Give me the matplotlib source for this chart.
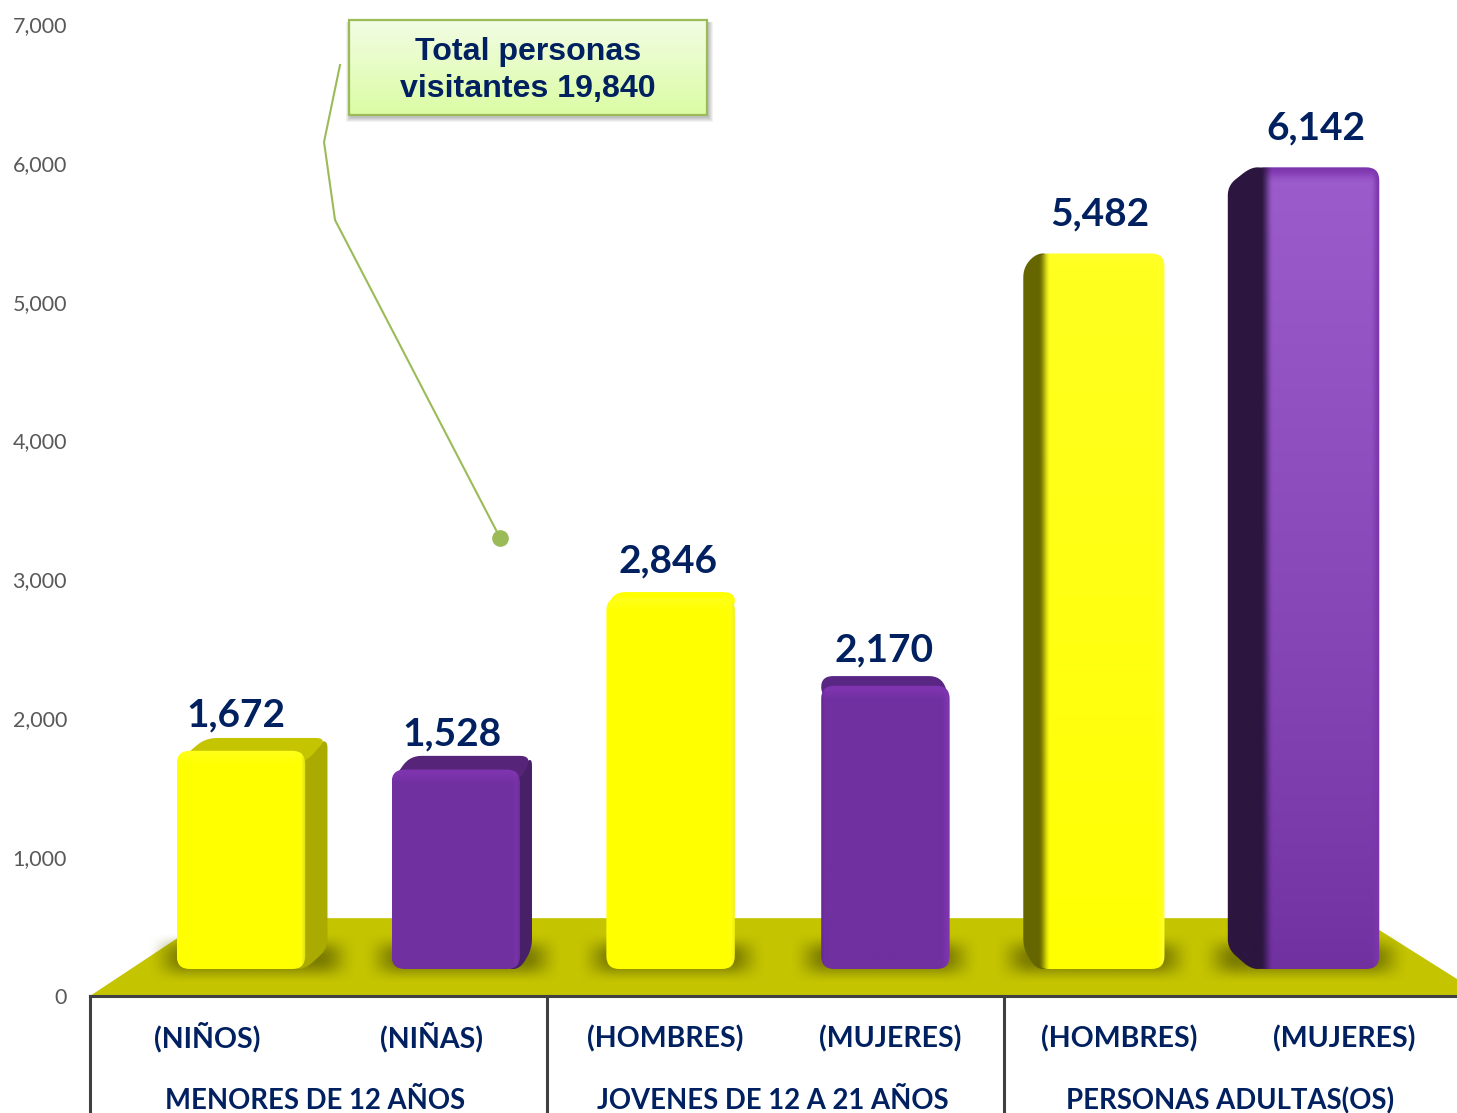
import numpy as np
import matplotlib
matplotlib.use('Agg')
import matplotlib.pyplot as plt
from matplotlib.colors import to_rgb
from matplotlib.patches import FancyBboxPatch, Polygon, Rectangle

# data
categories = ['(NIÑOS)', '(NIÑAS)', '(HOMBRES)', '(MUJERES)', '(HOMBRES)', '(MUJERES)']
groups = ['MENORES DE 12 AÑOS', 'JOVENES DE 12 A 21 AÑOS', 'PERSONAS ADULTAS(OS)']
visitors = [1672, 1528, 2846, 2170, 5482, 6142]
y_ticks = [0, 1000, 2000, 3000, 4000, 5000, 6000, 7000]
callout_lines = ['Total personas', 'visitantes 19,840']

# styles per bar
front_colors = ['#ffff00', '#7030a0', '#ffff00', '#7030a0', '#ffff00', '#7030a0']
bevel_colors = ['#ffff18', '#8035b0', '#ffff18', '#8035b0', '#ffff28', '#7d35ad']
side_colors = ['#aaaa00', '#472068', '#dada00', '#6a2c98', '#666600', '#2c1640']
top_colors = ['#c4c400', '#562478', '#ffff00', '#5a2684', '#ffff30', '#7d35ad']
top_lights = ['#ffff00', '#7030a0', '#ffff00', '#7030a0', '#ffff20', '#9c5ccc']
side_solid = [0, 0, 0, 0, 2, 9]
side_bands = [5, 5, 4, 4, 14, 22]
label_gaps = [23, 22, 31, 26, 39, 39]
label_nudge = [3, -1, 4, 0, 1, -3]

NAVY = '#002060'
AXIS = '#404040'

# pixel size of one axis unit
PX_X = 228.5
PX_Y = 972 / 7000

# perspective of the 3D chart
VAN_X, VAN_Y = 2.476, 3240
FRONT, BACK, FLOOR = 0.94, 0.895, 0.827
HALF_W = 0.299
BAR_SHIFT = 0.013
TOP_LIFT = 3 / PX_Y


def project(x, y, s):
    return VAN_X + (x - VAN_X) * s, VAN_Y + (y - VAN_Y) * s


def px(x, y):
    return -0.5 + (x - 90) / PX_X, (996 - y) / PX_Y


def ramp(t):
    t = np.clip(t, 0, 1)
    return t * t * (3 - 2 * t)


def rounded_poly(points, r):
    # corners replaced by short curves, measured in pixels of the image
    pts = np.array(points, dtype=float) * [PX_X, PX_Y]
    out = []
    n = len(pts)
    for k in range(n):
        p, a, b = pts[k], pts[k - 1], pts[(k + 1) % n]
        la, lb = np.linalg.norm(a - p), np.linalg.norm(b - p)
        if la < 1e-6 or lb < 1e-6:
            out.append(p)
            continue
        s = p + (a - p) / la * min(r, la / 2)
        e = p + (b - p) / lb * min(r, lb / 2)
        for t in np.linspace(0, 1, 8):
            out.append((1 - t) ** 2 * s + 2 * t * (1 - t) * p + t ** 2 * e)
    return np.array(out) / [PX_X, PX_Y]


def draw_shadow(ax, x0, x1, y0, y1):
    # soft dark patch on the floor around the foot of a bar
    xs = np.linspace(x0 - 30 / PX_X, x1 + 30 / PX_X, 200)
    ys = np.linspace(y1 + 16 / PX_Y, y0 - 15 / PX_Y, 90)
    gx = ramp((xs - xs[0]) * PX_X / 38) * ramp((xs[-1] - xs) * PX_X / 38)
    gy = ramp((ys[0] - ys) * PX_Y / 24) * ramp((ys - ys[-1]) * PX_Y / 24)
    rgba = np.zeros((len(ys), len(xs), 4))
    rgba[..., :3] = to_rgb('#6a6a00')
    rgba[..., 3] = np.outer(gy, gx) * 0.8
    ax.imshow(rgba, extent=(xs[0], xs[-1], ys[-1], ys[0]), origin='upper', aspect='auto', zorder=2)


def front_image(i, width_px, height_px, light_left):
    base = np.array(to_rgb(front_colors[i]))
    light = np.array(to_rgb(top_lights[i]))
    bevel = np.array(to_rgb(bevel_colors[i]))
    side = np.array(to_rgb(side_colors[i]))
    h, w = max(int(height_px), 2), max(int(width_px), 2)
    v = np.linspace(0, 1, h)[:, None, None]
    u = np.arange(w)[None, :, None]
    img = base + (light - base) * (1 - v) ** 0.8 * np.ones((h, w, 3))
    # bevel on the top and outer edges
    edge = ramp(1 - np.arange(h)[:, None, None] / 16.0)
    img = img * (1 - edge) + bevel * edge
    right = ramp(1 - (w - 1 - u) / 9.0)
    img = img * (1 - right) + bevel * right
    # blend to the side colour
    if light_left:
        t = ramp(1 - (u - side_solid[i]) / (side_bands[i] - side_solid[i]))
    else:
        t = ramp(1 - (w - 1 - u) / side_bands[i]) * 0.35
    return img * (1 - t) + side * t


fig = plt.figure(figsize=(14.57, 11.13), dpi=100, facecolor='white')
ax = fig.add_axes([90 / 1457, (1113 - 996) / 1113, 1367 / 1457, 972 / 1113])
ax.patch.set_alpha(0)

# floor
corners = [(-0.5, 0), (5.6, 0), project(5.6, 0, FLOOR), project(-0.5, 0, FLOOR)]
ax.add_patch(Polygon(corners, closed=True, facecolor='#c4c400', edgecolor='none', zorder=1))

for i, v in enumerate(visitors):
    x0, x1 = i + BAR_SHIFT - HALF_W, i + BAR_SHIFT + HALF_W
    fx0, fy0 = project(x0, 0, FRONT)
    fx1, fy1 = project(x1, v, FRONT)
    bx0, by0 = project(x0, 0, BACK)
    bx1, by1 = project(x1, v, BACK)
    if v < VAN_Y:
        by1 = by1 + TOP_LIFT

    draw_shadow(ax, min(fx0, bx0), max(fx1, bx1), fy0, by0)

    # side and top faces
    left_side = x1 >= VAN_X
    if left_side:
        depth = (fx0 - bx0) * PX_X
        side = [(fx0 + 14 / PX_X, fy0), (fx0, fy0), (bx0, by0), (bx0, by1), (fx0, fy1), (fx0 + 14 / PX_X, fy1)]
    else:
        depth = (bx1 - fx1) * PX_X
        side = [(fx1 - 14 / PX_X, fy0), (fx1, fy0), (bx1, by0), (bx1, by1), (fx1, fy1), (fx1 - 14 / PX_X, fy1)]
    if depth > 8:
        ax.add_patch(Polygon(rounded_poly(side, 10), closed=True, facecolor=side_colors[i],
                             edgecolor='none', zorder=3))
    if v < VAN_Y:
        top = [(fx0, fy1 - 12 / PX_Y), (max(bx0, fx0), by1), (min(bx1, fx1) if depth <= 8 else bx1, by1),
               (fx1, fy1 - 12 / PX_Y)]
        ax.add_patch(Polygon(rounded_poly(top, 12), closed=True, facecolor=top_colors[i],
                             edgecolor='none', zorder=3))

    # front face with rounded corners
    clip = FancyBboxPatch((fx0, fy0), fx1 - fx0, fy1 - fy0,
                          boxstyle='round,pad=0,rounding_size=%f' % (13 / PX_X),
                          mutation_aspect=PX_X / PX_Y, facecolor='none', edgecolor='none', zorder=4)
    ax.add_patch(clip)
    w_px = (fx1 - fx0) * PX_X
    h_px = (fy1 - fy0) * PX_Y
    im = ax.imshow(front_image(i, w_px, h_px, left_side), extent=(fx0, fx1, fy0, fy1), origin='upper',
                   aspect='auto', zorder=4)
    im.set_clip_path(clip)

    # value label
    lx = VAN_X + (i - VAN_X) * 0.945 + 1 / PX_X
    ly = max(fy1, by1) + label_gaps[i] / PX_Y
    ax.text(lx, ly, f'{v:,}', ha='center', va='center', color=NAVY, fontsize=28,
            fontweight='bold', family='Lato', zorder=6)

# axes
ax.set_xlim(-0.5, 5.482)
ax.set_ylim(0, 7000)
ax.set_yticks(y_ticks)
ax.set_yticklabels([f'{t:,}' for t in y_ticks], fontsize=15.5, color='#595959', family='Lato',
                   va='center_baseline')
ax.set_xticks([k + label_nudge[k] / PX_X for k in range(len(categories))])
ax.set_xticklabels(categories, fontsize=20.5, fontweight='bold', color=NAVY, family='Lato', va='baseline')
ax.tick_params(axis='y', length=0, pad=16.5)
ax.tick_params(axis='x', length=0, pad=36.8)
for name in ['top', 'left', 'right']:
    ax.spines[name].set_visible(False)
ax.spines['bottom'].set_color(AXIS)
ax.spines['bottom'].set_linewidth(2.2)
ax.spines['bottom'].set_zorder(5)

# group separators and group labels below the axis
for sep in [-0.5, 1.5, 3.5]:
    ax.plot([sep, sep], [0, -900], color=AXIS, lw=2.2, clip_on=False, zorder=5)
for k, name in enumerate(groups):
    ax.text(0.5 + 2 * k - 3 / PX_X, px(0, 1109)[1], name, ha='center', va='baseline', fontsize=19.8,
            fontweight='bold', color=NAVY, family='Lato', clip_on=False)

# callout
bx0, by1 = px(349, 20)
bx1, by0 = px(707, 115)
for k in range(5, 0, -1):
    sx0, sy1 = px(349 - k + 2, 20 + 2)
    sx1, sy0 = px(707 + k + 1, 115 + k + 2)
    ax.add_patch(Rectangle((sx0, sy0), sx1 - sx0, sy1 - sy0, facecolor='#000000', alpha=0.05,
                           edgecolor='none', zorder=6, clip_on=False))
grad = np.linspace(0, 1, 64)[:, None, None]
box_img = np.array(to_rgb('#f2fde4')) * (1 - grad) + np.array(to_rgb('#dbfca4')) * grad
im = ax.imshow(box_img, extent=(bx0, bx1, by0, by1), origin='upper', aspect='auto', zorder=7, clip_on=False)
ax.add_patch(Rectangle((bx0, by0), bx1 - bx0, by1 - by0, facecolor='none', edgecolor='#9bbb59',
                       lw=1.6, zorder=8, clip_on=False))
for line, py in zip(callout_lines, [52, 89]):
    tx, ty = px(528, py)
    ax.text(tx, ty, line, ha='center', va='center', color=NAVY, fontsize=23.1, fontweight='bold',
            family='Liberation Sans', zorder=9, clip_on=False)

leader = np.array([px(340, 65), px(324, 142), px(335, 220), px(497, 532)])
ax.plot(leader[:, 0], leader[:, 1], color='#9bbb59', lw=1.5, zorder=6, clip_on=False)
dot = px(500, 538)
ax.plot([dot[0]], [dot[1]], 'o', ms=11, color='#9bbb59', zorder=6)

ax.set_xlim(-0.5, 5.482)
ax.set_ylim(0, 7000)

fig.savefig('out.png', dpi=100)
